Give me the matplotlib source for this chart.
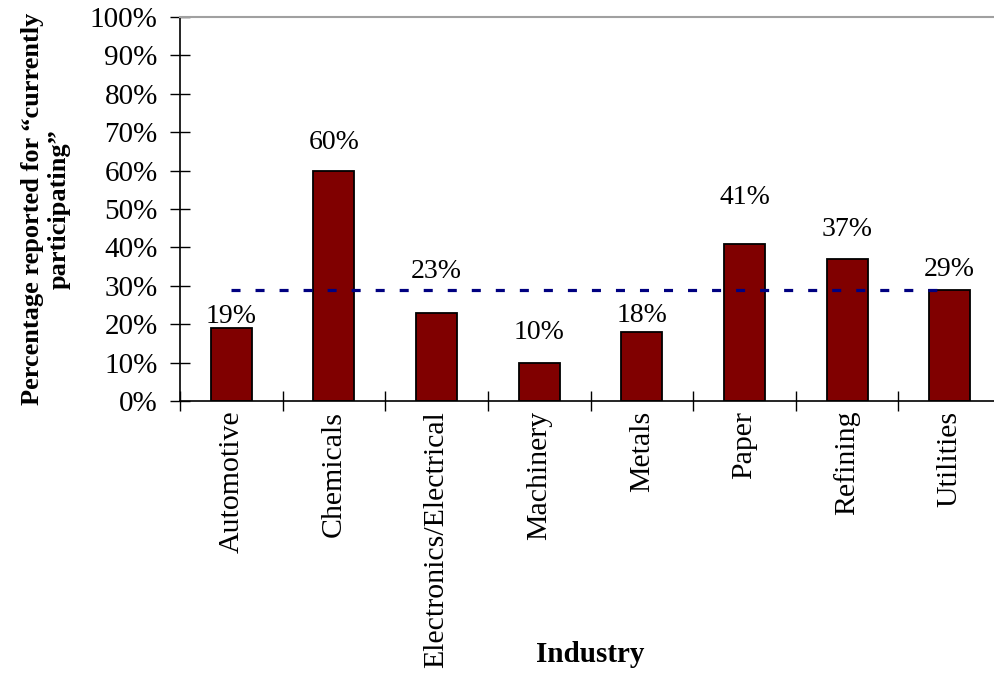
import matplotlib
matplotlib.use("Agg")
import matplotlib.pyplot as plt
from matplotlib.ticker import FixedLocator, FuncFormatter

# Survey results by industry
industries = ["Automotive", "Chemicals", "Electronics/Electrical", "Machinery",
              "Metals", "Paper", "Refining", "Utilities"]
participating = [19, 60, 23, 10, 18, 41, 37, 29]
average_pct = 29
y_ticks = [0, 10, 20, 30, 40, 50, 60, 70, 80, 90, 100]

# vertical offsets (points) of each value label above its bar
label_offsets = [8.6, 20, 30, 21.6, 11.5, 33, 21, 14.4]

plt.rcParams["font.family"] = ["Liberation Serif", "DejaVu Serif"]
plt.rcParams["lines.scale_dashes"] = False

fig = plt.figure(figsize=(9.95, 6.75), dpi=100)
ax = fig.add_axes([180 / 995, 274 / 675, 821 / 995, 384 / 675])

x = list(range(len(industries)))
ax.bar(x, participating, width=0.4, color="#800000", edgecolor="black",
       linewidth=1.3, zorder=2)

ax.plot([x[0], x[-1]], [average_pct, average_pct], color="#000080",
        linewidth=2.3, linestyle=(0, (6.5, 10.8)), solid_capstyle="butt",
        dash_capstyle="butt", zorder=3)

for xi, v, off in zip(x, participating, label_offsets):
    ax.annotate(f"{v}%", xy=(xi, v), xytext=(0, off), textcoords="offset points",
                ha="center", va="center", fontsize=20, zorder=4)

ax.set_xlim(-0.5, len(industries) - 0.5)
ax.set_ylim(0, 100)

ax.yaxis.set_major_locator(FixedLocator(y_ticks))
ax.yaxis.set_major_formatter(FuncFormatter(lambda v, p: f"{int(v)}%"))
ax.tick_params(axis="y", direction="inout", length=14, width=1.0,
               labelsize=21, pad=9)

ax.set_xticks(x)
ax.set_xticklabels(industries, rotation=90, fontsize=21.5, va="top", ha="center")
ax.tick_params(axis="x", which="major", length=0, pad=7)
ax.xaxis.set_minor_locator(FixedLocator([i - 0.5 for i in range(len(industries) + 1)]))
ax.tick_params(axis="x", which="minor", direction="inout", length=14, width=1.0)

for side in ("left", "bottom"):
    ax.spines[side].set_color("black")
    ax.spines[side].set_linewidth(1.2)
ax.spines["top"].set_color("#a0a0a0")
ax.spines["top"].set_linewidth(1.5)
ax.spines["right"].set_visible(False)

ax.set_ylabel("Percentage reported for \u201ccurrently\nparticipating\u201d",
              fontsize=19, fontweight="bold", labelpad=14, linespacing=1.2)
fig.text(590 / 995, 1 - 655 / 675, "Industry", ha="center", va="center",
         fontsize=21, fontweight="bold")

fig.savefig("out.png", dpi=100)
